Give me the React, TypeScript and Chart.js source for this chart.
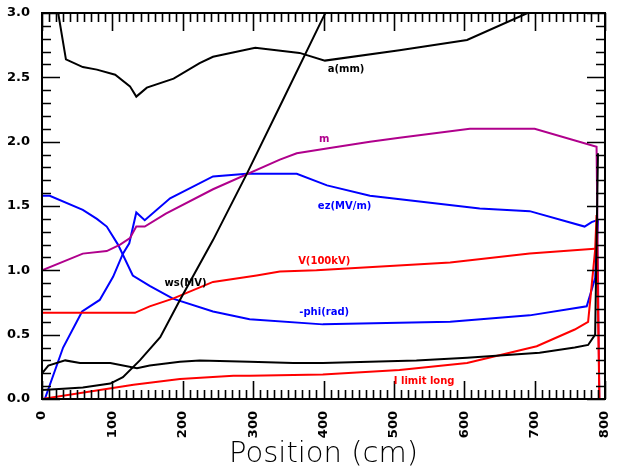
import React, { useEffect, useRef } from 'react';
import { Chart, registerables } from 'chart.js';

Chart.register(...registerables);

// ---- data (position in cm, value) ----
const aPos = [18, 23, 34, 58, 78, 104, 125, 134, 149, 187, 224, 243, 303, 366, 402, 508, 604, 690, 750];
const aVal = [3.2, 3.0, 2.64, 2.58, 2.56, 2.52, 2.43, 2.35, 2.42, 2.49, 2.61, 2.66, 2.73, 2.69, 2.63, 2.71, 2.79, 3.0, 3.15];

const wsPos = [0, 30, 58, 97, 115, 139, 168, 196, 243, 291, 342, 399, 450];
const wsVal = [0.07, 0.08, 0.09, 0.12, 0.17, 0.3, 0.48, 0.77, 1.235, 1.75, 2.32, 2.96, 3.5];

const lowPos = [0, 9, 33, 54, 97, 135, 153, 196, 224, 295, 357, 399, 532, 604, 707, 757, 776, 786, 790];
const lowVal = [0.2, 0.26, 0.3, 0.28, 0.28, 0.24, 0.26, 0.29, 0.3, 0.29, 0.28, 0.28, 0.3, 0.32, 0.36, 0.4, 0.42, 0.5, 1.91];

const vPos = [0, 132, 153, 186, 243, 305, 338, 390, 580, 693, 790];
const vVal = [0.67, 0.67, 0.72, 0.78, 0.91, 0.96, 0.99, 1.0, 1.06, 1.13, 1.17];

const iPos = [0, 130, 196, 272, 295, 399, 508, 604, 703, 757, 776, 786, 788, 792];
const iVal = [0, 0.11, 0.155, 0.18, 0.18, 0.19, 0.225, 0.28, 0.41, 0.54, 0.6, 1.16, 1.43, 0];

const mPos = [0, 58, 92, 111, 125, 134, 146, 176, 243, 338, 362, 409, 466, 508, 608, 700, 788, 792];
const mVal = [1.0, 1.13, 1.15, 1.2, 1.25, 1.34, 1.34, 1.44, 1.63, 1.86, 1.91, 1.95, 2.0, 2.03, 2.1, 2.1, 1.96, 0];

const ezPos = [4, 30, 57, 82, 101, 115, 124, 134, 146, 182, 243, 291, 362, 405, 466, 622, 693, 771, 781, 789];
const ezVal = [0, 0.4, 0.68, 0.77, 0.95, 1.13, 1.21, 1.45, 1.39, 1.56, 1.73, 1.75, 1.75, 1.66, 1.58, 1.48, 1.46, 1.34, 1.375, 1.39];

const phiPos = [0, 11, 58, 78, 92, 108, 129, 153, 186, 243, 295, 399, 580, 693, 774, 786, 790];
const phiVal = [1.58, 1.58, 1.47, 1.4, 1.34, 1.2, 0.96, 0.88, 0.78, 0.68, 0.62, 0.58, 0.6, 0.65, 0.72, 0.94, 1.39];

const xTicks = [0, 100, 200, 300, 400, 500, 600, 700, 800];
const yTicks = [0, 0.5, 1.0, 1.5, 2.0, 2.5, 3.0];

const curveNames = ['a(mm)', 'ws(MV)', '', 'V(100kV)', 'I limit long', 'm', 'ez(MV/m)', '-phi(rad)'];
const labelTexts = ['a(mm)', 'm', 'ez(MV/m)', 'V(100kV)', 'ws(MV)', '-phi(rad)', 'I limit long'];
const labelX = [432, 401, 430, 401, 204, 401, 543];
const labelY = [2.56, 2.02, 1.5, 1.07, 0.9, 0.67, 0.14];

const BLACK = '#000000';
const RED = '#ff0000';
const BLUE = '#0000ff';
const MAGENTA = '#b0008c';
const labelColors = [BLACK, MAGENTA, BLUE, RED, BLACK, BLUE, RED];

const pts = (xs: number[], ys: number[]) => xs.map((x, i) => ({ x, y: ys[i] }));

const framePlugin = {
  id: 'frameTicks',
  afterDatasetsDraw(chart: any) {
    const { ctx, chartArea, scales } = chart;
    const { left, right, top, bottom } = chartArea;
    const xs = scales.x;
    const ys = scales.y;
    ctx.save();
    ctx.strokeStyle = '#000';
    ctx.lineWidth = 2;
    ctx.strokeRect(left, top, right - left, bottom - top);
    ctx.lineWidth = 1.6;
    ctx.beginPath();
    for (let v = 0; v <= 800; v += 10) {
      const px = Math.round(xs.getPixelForValue(v)) + 0.5;
      const len = v % 100 === 0 ? 18 : 9;
      ctx.moveTo(px, bottom);
      ctx.lineTo(px, bottom - len);
      ctx.moveTo(px, top);
      ctx.lineTo(px, top + len);
    }
    for (let i = 0; i <= 30; i++) {
      const py = Math.round(ys.getPixelForValue(i / 10)) + 0.5;
      const len = i % 5 === 0 ? 18 : 9;
      ctx.moveTo(left, py);
      ctx.lineTo(left + len, py);
      ctx.moveTo(right, py);
      ctx.lineTo(right - len, py);
    }
    ctx.stroke();

    ctx.font = 'bold 10px "DejaVu Sans"';
    ctx.textAlign = 'center';
    ctx.textBaseline = 'middle';
    labelTexts.forEach((t, i) => {
      ctx.fillStyle = labelColors[i];
      ctx.fillText(t, xs.getPixelForValue(labelX[i]), ys.getPixelForValue(labelY[i]));
    });
    ctx.restore();
  },
};

export default function App() {
  const ref = useRef<HTMLCanvasElement | null>(null);
  useEffect(() => {
    if (!ref.current) return;
    const series = [
      { xs: aPos, ys: aVal, c: BLACK },
      { xs: wsPos, ys: wsVal, c: BLACK },
      { xs: lowPos, ys: lowVal, c: BLACK },
      { xs: vPos, ys: vVal, c: RED },
      { xs: iPos, ys: iVal, c: RED },
      { xs: mPos, ys: mVal, c: MAGENTA },
      { xs: ezPos, ys: ezVal, c: BLUE },
      { xs: phiPos, ys: phiVal, c: BLUE },
    ];
    const chart = new Chart(ref.current, {
      type: 'line',
      data: {
        datasets: series.map((s, i) => ({
          label: curveNames[i],
          data: pts(s.xs, s.ys),
          borderColor: s.c,
          backgroundColor: s.c,
          borderWidth: 2,
          pointRadius: 0,
          tension: 0,
          fill: false,
        })),
      },
      options: {
        animation: false,
        responsive: false,
        devicePixelRatio: 1,
        layout: { padding: { top: 13, right: 12, left: 0, bottom: 0 } },
        plugins: { legend: { display: false }, tooltip: { enabled: false } },
        scales: {
          x: {
            type: 'linear',
            min: 0,
            max: 800,
            afterFit: (s: any) => { s.height = 72; s.paddingLeft = 0; s.paddingRight = 0; },
            afterBuildTicks: (s: any) => { s.ticks = xTicks.map((v) => ({ value: v })); },
            grid: { display: false },
            border: { display: false },
            ticks: {
              color: '#000',
              font: { family: 'DejaVu Sans', size: 13, weight: 'bold' },
              minRotation: 90,
              maxRotation: 90,
              padding: 4,
              autoSkip: false,
              callback: (v: any) => String(v),
            },
            title: {
              display: true,
              text: 'Position (cm)',
              color: '#000',
              font: { family: 'DejaVu Sans', size: 29, weight: '200', lineHeight: 1 },
              padding: { top: 0, bottom: 2 },
            },
          },
          y: {
            type: 'linear',
            min: 0,
            max: 3,
            afterFit: (s: any) => { s.width = 42; s.paddingTop = 0; s.paddingBottom = 0; },
            afterBuildTicks: (s: any) => { s.ticks = yTicks.map((v) => ({ value: v })); },
            grid: { display: false },
            border: { display: false },
            ticks: {
              color: '#000',
              font: { family: 'DejaVu Sans', size: 13, weight: 'bold' },
              padding: 4,
              autoSkip: false,
              callback: (v: any) => Number(v).toFixed(1),
            },
          },
        },
      },
      plugins: [framePlugin],
    } as any);
    return () => chart.destroy();
  }, []);
  return (
    <div style={{ position: 'absolute', left: 0, top: 0, width: 617, height: 471, background: '#fff' }}>
      <canvas ref={ref} width={617} height={471} style={{ display: 'block' }} />
    </div>
  );
}
